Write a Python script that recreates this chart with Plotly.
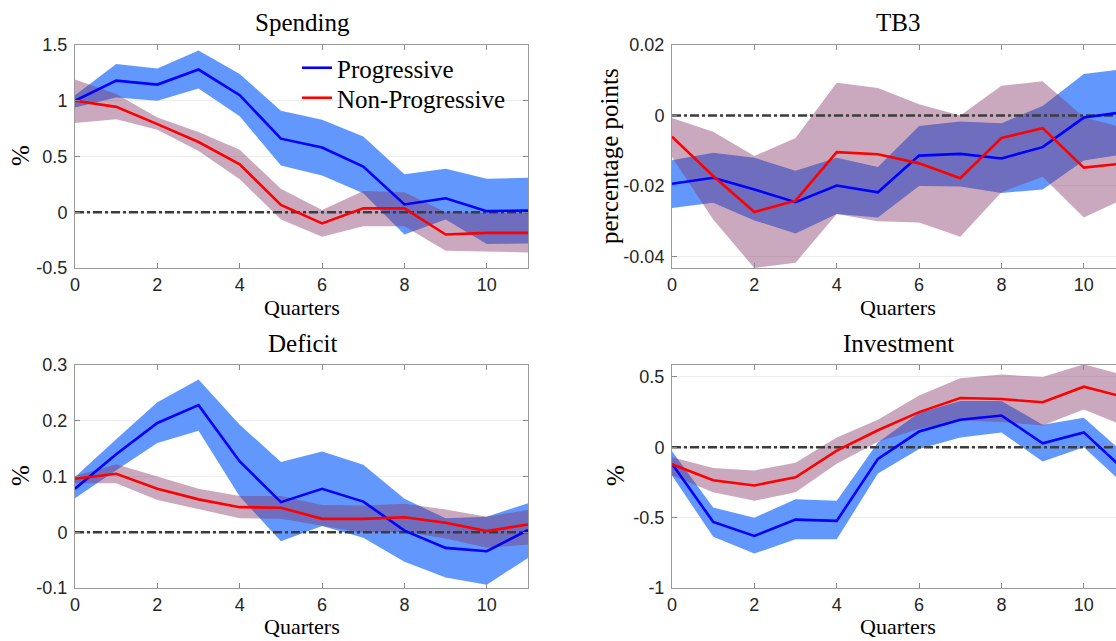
import plotly.graph_objects as go

# Impulse-response horizon
quarters = list(range(12))

# Spending (% response)
prog_spend = [1.00, 1.18, 1.145, 1.28, 1.05, 0.66, 0.58, 0.41, 0.07, 0.125, 0.01, 0.015]
prog_spend_hi = [1.05, 1.33, 1.29, 1.45, 1.24, 0.91, 0.83, 0.68, 0.34, 0.39, 0.30, 0.31]
prog_spend_lo = [0.94, 1.03, 1.00, 1.11, 0.86, 0.42, 0.33, 0.17, -0.20, -0.065, -0.285, -0.28]
np_spend = [1.00, 0.945, 0.79, 0.63, 0.43, 0.065, -0.10, 0.035, 0.035, -0.20, -0.185, -0.185]
np_spend_hi = [1.19, 1.06, 0.85, 0.72, 0.56, 0.21, 0.02, 0.19, 0.18, 0.0, -0.005, -0.01]
np_spend_lo = [0.80, 0.835, 0.74, 0.55, 0.295, -0.065, -0.22, -0.125, -0.125, -0.345, -0.35, -0.36]

# TB3 (percentage points)
prog_tb3 = [-0.0194, -0.0177, -0.021, -0.0246, -0.0199, -0.0218, -0.0114, -0.0109, -0.0122, -0.009, -0.0006, 0.001]
prog_tb3_hi = [-0.0127, -0.0106, -0.012, -0.0157, -0.012, -0.0146, -0.003, -0.0017, -0.0022, 0.0027, 0.0118, 0.0132]
prog_tb3_lo = [-0.0263, -0.0248, -0.0298, -0.0335, -0.028, -0.029, -0.020, -0.0202, -0.022, -0.021, -0.0128, -0.011]
np_tb3 = [-0.006, -0.0172, -0.0274, -0.0242, -0.0104, -0.011, -0.0136, -0.0178, -0.0064, -0.0036, -0.0148, -0.0136]
np_tb3_hi = [-0.0007, -0.0046, -0.0115, -0.0064, 0.0093, 0.0078, 0.0032, 0.0, 0.0084, 0.0097, -0.0005, -0.0036]
np_tb3_lo = [-0.0118, -0.0295, -0.0433, -0.0418, -0.028, -0.030, -0.0304, -0.0344, -0.0218, -0.0174, -0.029, -0.0235]

# Deficit (% response)
prog_def = [0.078, 0.140, 0.196, 0.228, 0.127, 0.054, 0.078, 0.055, 0.003, -0.028, -0.034, 0.004]
prog_def_hi = [0.099, 0.167, 0.233, 0.274, 0.193, 0.126, 0.145, 0.121, 0.060, 0.025, 0.028, 0.052]
prog_def_lo = [0.061, 0.111, 0.160, 0.182, 0.064, -0.016, 0.011, -0.010, -0.053, -0.081, -0.094, -0.046]
np_def = [0.096, 0.105, 0.078, 0.059, 0.045, 0.044, 0.024, 0.024, 0.027, 0.017, 0.002, 0.014]
np_def_hi = [0.101, 0.122, 0.100, 0.078, 0.065, 0.065, 0.049, 0.048, 0.051, 0.041, 0.028, 0.040]
np_def_lo = [0.088, 0.088, 0.058, 0.041, 0.025, 0.024, 0.011, -0.001, 0.001, -0.011, -0.028, -0.022]

# Investment (% response)
prog_inv = [-0.117, -0.53, -0.63, -0.514, -0.523, -0.082, 0.112, 0.196, 0.226, 0.029, 0.106, -0.165]
prog_inv_hi = [-0.028, -0.428, -0.50, -0.37, -0.38, 0.035, 0.245, 0.33, 0.33, 0.16, 0.21, -0.05]
prog_inv_lo = [-0.20, -0.636, -0.755, -0.654, -0.654, -0.187, -0.012, 0.07, 0.105, -0.10, 0.0, -0.27]
np_inv = [-0.121, -0.234, -0.271, -0.213, -0.023, 0.121, 0.25, 0.35, 0.343, 0.32, 0.431, 0.355]
np_inv_hi = [-0.07, -0.147, -0.164, -0.11, 0.07, 0.196, 0.369, 0.49, 0.517, 0.50, 0.59, 0.51]
np_inv_lo = [-0.20, -0.32, -0.38, -0.32, -0.117, 0.04, 0.13, 0.19, 0.18, 0.155, 0.268, 0.15]

# Axis ticks
x_ticks = [0, 2, 4, 6, 8, 10]
spend_ticks = [-0.5, 0, 0.5, 1, 1.5]
spend_ticktext = ["-0.5", "0", "0.5", "1", "1.5"]
tb3_ticks = [-0.04, -0.02, 0, 0.02]
tb3_ticktext = ["-0.04", "-0.02", "0", "0.02"]
def_ticks = [-0.1, 0, 0.1, 0.2, 0.3]
def_ticktext = ["-0.1", "0", "0.1", "0.2", "0.3"]
inv_ticks = [-1, -0.5, 0, 0.5]
inv_ticktext = ["-1", "-0.5", "0", "0.5"]

W, H = 1116, 641
BLUE_LINE = "#0000FF"
RED_LINE = "#FF0000"
BLUE_BAND = "rgb(98,152,253)"
PURPLE_BAND = "rgba(128,51,102,0.42)"
SERIF = "Liberation Serif, Times New Roman, serif"
SANS = "Liberation Sans, Arial, sans-serif"

fig = go.Figure()

panels = [
    # (axis suffix, progressive, hi, lo, non-progressive, hi, lo)
    ("", prog_spend, prog_spend_hi, prog_spend_lo, np_spend, np_spend_hi, np_spend_lo),
    ("2", prog_tb3, prog_tb3_hi, prog_tb3_lo, np_tb3, np_tb3_hi, np_tb3_lo),
    ("3", prog_def, prog_def_hi, prog_def_lo, np_def, np_def_hi, np_def_lo),
    ("4", prog_inv, prog_inv_hi, prog_inv_lo, np_inv, np_inv_hi, np_inv_lo),
]

for i, (sfx, p, p_hi, p_lo, n, n_hi, n_lo) in enumerate(panels):
    xa, ya = "x" + sfx, "y" + sfx
    band_x = quarters + quarters[::-1]
    fig.add_trace(go.Scatter(x=band_x, y=p_hi + p_lo[::-1], fill="toself",
                             fillcolor=BLUE_BAND, line=dict(width=0), mode="lines",
                             hoverinfo="skip", showlegend=False, xaxis=xa, yaxis=ya))
    fig.add_trace(go.Scatter(x=band_x, y=n_hi + n_lo[::-1], fill="toself",
                             fillcolor=PURPLE_BAND, line=dict(width=0), mode="lines",
                             hoverinfo="skip", showlegend=False, xaxis=xa, yaxis=ya))
    fig.add_trace(go.Scatter(x=[quarters[0], quarters[-1]], y=[0, 0], mode="lines",
                             line=dict(color="#3c3c3c", width=2.4, dash="dashdot"),
                             hoverinfo="skip", showlegend=False, xaxis=xa, yaxis=ya))
    fig.add_trace(go.Scatter(x=quarters, y=p, mode="lines", name="Progressive",
                             line=dict(color=BLUE_LINE, width=2.6), legend="legend",
                             showlegend=(i == 0), xaxis=xa, yaxis=ya))
    fig.add_trace(go.Scatter(x=quarters, y=n, mode="lines", name="Non-Progressive",
                             line=dict(color=RED_LINE, width=2.6), legend="legend2",
                             showlegend=(i == 0), xaxis=xa, yaxis=ya))

# Panel geometry in pixels
left_x = [75 / W, 528 / W]
right_x = [672 / W, 1.0]
top_y = [1 - 268 / H, 1 - 45 / H]
bot_y = [1 - 588 / H, 1 - 365 / H]
unit_px = (528 - 75) / 11
right_xmax = (W - 672) / unit_px

common_x = dict(tickvals=x_ticks, ticktext=[str(t) for t in x_ticks], ticks="inside",
                ticklen=5, tickcolor="#888888", showline=True, linecolor="#9a9a9a",
                linewidth=1, showgrid=False, zeroline=False, ticklabelstandoff=0,
                automargin=False,
                tickfont=dict(family=SANS, size=18, color="#262626"))
common_y = dict(ticks="inside", ticklen=5, tickcolor="#888888", showline=True,
                linecolor="#9a9a9a", linewidth=1, showgrid=True, gridcolor="#ececec",
                gridwidth=1, zeroline=False, ticklabelstandoff=3, automargin=False,
                tickfont=dict(family=SANS, size=18, color="#262626"))

legend_style = dict(xanchor="left", yanchor="middle", bgcolor="rgba(0,0,0,0)",
                    borderwidth=0, itemwidth=30,
                    font=dict(family=SERIF, size=25, color="black"))

fig.update_layout(
    xaxis=dict(domain=left_x, range=[0, 11], anchor="y", mirror="ticks", **common_x),
    yaxis=dict(domain=top_y, range=[-0.5, 1.5], tickvals=spend_ticks, ticktext=spend_ticktext,
               anchor="x", mirror="ticks", **common_y),
    xaxis2=dict(domain=right_x, range=[0, right_xmax], anchor="y2", mirror="ticks", **common_x),
    yaxis2=dict(domain=top_y, range=[-0.0433, 0.02], tickvals=tb3_ticks, ticktext=tb3_ticktext,
                anchor="x2", mirror=False, **common_y),
    xaxis3=dict(domain=left_x, range=[0, 11], anchor="y3", mirror="ticks", **common_x),
    yaxis3=dict(domain=bot_y, range=[-0.1, 0.3], tickvals=def_ticks, ticktext=def_ticktext,
                anchor="x3", mirror="ticks", **common_y),
    xaxis4=dict(domain=right_x, range=[0, right_xmax], anchor="y4", mirror="ticks", **common_x),
    yaxis4=dict(domain=bot_y, range=[-1, 0.585], tickvals=inv_ticks, ticktext=inv_ticktext,
                anchor="x4", mirror=False, **common_y),
    width=W, height=H,
    margin=dict(l=0, r=0, t=0, b=0, pad=0, autoexpand=False),
    paper_bgcolor="white", plot_bgcolor="white",
    legend=dict(x=297 / W, y=1 - 68 / H, **legend_style),
    legend2=dict(x=297 / W, y=1 - 98 / H, **legend_style),
    showlegend=True,
)

def label(text, x, y, size=25, angle=0, anchor="middle"):
    fig.add_annotation(text=text, x=x / W, y=1 - y / H, xref="paper", yref="paper",
                       showarrow=False, textangle=angle, xanchor="center", yanchor=anchor,
                       font=dict(family=SERIF, size=size, color="black"))

# Panel titles
label("Spending", 302, 23)
label("TB3", 898, 23)
label("Deficit", 302, 343)
label("Investment", 898, 343)
# Axis titles
label("Quarters", 302, 307, size=22)
label("Quarters", 898, 307, size=22)
label("Quarters", 302, H, size=22, anchor="bottom")
label("Quarters", 898, H, size=22, anchor="bottom")
label("%", 20, 156, angle=-90)
label("%", 20, 476, angle=-90)
label("percentage points", 609, 156, angle=-90)
label("%", 615, 476, angle=-90)

fig.write_html("out.html")
